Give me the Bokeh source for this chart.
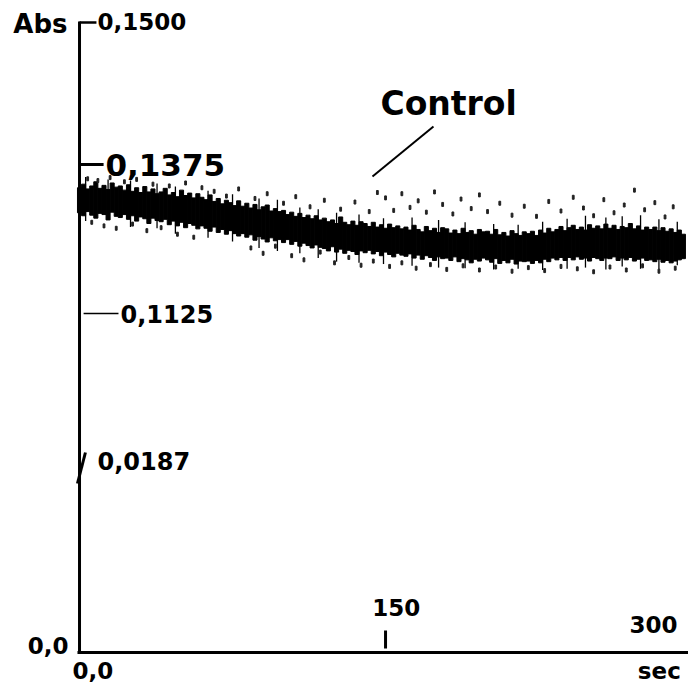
import numpy as np
from bokeh.plotting import figure
from bokeh.models import Label, ColumnDataSource
from bokeh.embed import file_html
from bokeh.resources import INLINE

# ---------------- data (absorbance in mAbs, time in s) ----------------
time_s = list(range(0, 297, 2))

abs_hi_mabs = [
    133.6, 134.2, 133.4, 133.9, 134.6, 133.5, 134.0, 133.3, 134.4, 133.7,
    133.9, 133.2, 134.1, 133.0, 133.6, 132.8, 133.8, 132.9, 133.4, 132.6,
    132.9, 133.5, 132.4, 132.8, 132.1, 133.2, 132.3, 132.7, 131.9, 132.6,
    132.0, 131.6, 132.4, 131.3, 131.8, 130.9, 131.5, 131.1, 130.6, 131.4,
    130.5, 131.0, 130.2, 130.8, 129.9, 130.4, 130.7, 129.7, 130.1, 129.6,
    129.8, 129.1, 129.5, 128.8, 129.3, 128.6, 129.0, 128.4, 128.9, 128.2,
    128.5, 127.9, 128.2, 127.6, 128.7, 127.8, 127.4, 128.0, 127.3, 127.9,
    127.6, 127.1, 127.8, 127.0, 127.4, 126.8, 127.5, 126.9, 127.2, 126.7,
    127.0, 126.5, 127.3, 126.6, 126.2, 127.1, 126.4, 126.8, 126.1, 126.9,
    126.7, 126.0, 126.5, 125.9, 126.8, 126.1, 126.4, 125.8, 126.6, 126.2,
    126.3, 125.8, 126.6, 125.7, 126.1, 125.5, 126.4, 125.9, 125.6, 126.2,
    125.9, 126.3, 125.6, 126.5, 126.0, 126.8, 126.2, 126.6, 127.1, 126.4,
    126.9, 127.3, 126.6, 127.0, 126.5, 127.4, 126.8, 127.2, 126.7, 127.5,
    126.8, 127.3, 126.6, 127.1, 126.9, 127.6, 126.7, 127.2, 126.5, 127.0,
    126.6, 127.0, 126.4, 126.9, 126.3, 126.7, 126.1, 126.5, 125.8,
]
abs_lo_mabs = [
    129.4, 128.9, 129.6, 129.0, 128.5, 129.3, 129.1, 128.2, 129.5, 128.8,
    128.6, 129.1, 128.3, 128.9, 128.0, 128.7, 128.4, 127.6, 128.5, 128.1,
    127.9, 128.3, 127.4, 128.0, 127.2, 127.8, 126.9, 127.6, 127.3, 126.7,
    127.2, 126.8, 126.3, 127.0, 126.1, 126.6, 125.8, 126.4, 125.9, 125.5,
    125.9, 125.3, 125.7, 124.8, 125.4, 125.0, 124.5, 125.2, 124.7, 124.9,
    124.4, 124.9, 124.1, 124.6, 123.8, 124.3, 123.9, 123.5, 124.0, 123.6,
    123.4, 123.0, 123.7, 122.8, 123.3, 122.6, 123.1, 122.9, 122.4, 123.0,
    122.7, 123.1, 122.5, 122.9, 122.2, 122.8, 122.4, 122.0, 122.6, 122.3,
    122.1, 122.5, 121.8, 122.3, 121.6, 122.2, 121.9, 121.4, 122.0, 121.7,
    121.8, 121.4, 122.0, 121.2, 121.7, 121.5, 121.0, 121.6, 121.3, 121.8,
    121.5, 121.1, 121.7, 120.9, 121.4, 121.0, 121.6, 120.8, 121.3, 121.2,
    121.3, 120.9, 121.4, 121.0, 121.6, 121.2, 121.8, 121.5, 121.9, 121.4,
    121.9, 121.5, 122.0, 121.6, 121.8, 121.3, 121.9, 121.7, 121.4, 121.8,
    121.7, 122.0, 121.4, 121.8, 121.5, 121.9, 121.3, 121.6, 121.8, 121.4,
    121.5, 121.2, 121.6, 121.1, 121.4, 121.0, 121.3, 121.5, 121.7,
]

spike_t = [3, 14, 25, 38, 47, 63, 75, 88, 97, 108, 117, 126, 137, 149, 163, 176,
           189, 203, 215, 227, 239, 248, 258, 266, 275, 284, 293]
spike_top_mabs = [135.4, 135.0, 134.8, 134.3, 133.8, 133.1, 132.5, 131.8, 131.6, 130.3,
                  130.0, 129.4, 129.1, 128.5, 128.6, 128.2, 127.8, 127.5, 127.4, 127.9,
                  128.4, 128.9, 128.6, 128.8, 129.0, 128.3, 127.9]
spike_bot_mabs = [128.0, 128.4, 127.0, 126.8, 125.9, 125.2, 124.6, 123.5, 123.0, 122.6,
                  121.8, 121.2, 121.0, 120.8, 120.5, 120.2, 120.1, 119.9, 120.0, 119.8,
                  120.0, 120.2, 119.9, 120.4, 120.0, 119.9, 120.6]

dot_t = [4, 9, 15, 22, 28, 36, 44, 52, 60,
         66, 72, 78, 86, 92, 100, 106, 113, 120, 128, 135, 142, 146,
         150, 154, 158, 162, 166, 170, 174, 178, 183, 187, 192, 196, 200, 206,
         212, 218, 224, 230, 236, 242, 247, 252, 257, 262, 267, 272, 277, 282, 287, 291,
         6, 12, 18, 26, 33, 40, 48, 56,
         84, 90, 96, 104, 110, 118, 125, 132, 138, 144,
         152, 158, 165, 172, 180, 188, 196, 204, 212, 220, 228, 236, 244, 252,
         260, 268, 276, 284, 292]
dot_mabs = [135.1, 134.8, 135.3, 134.6, 135.0, 134.2, 133.9, 134.4, 133.6,
            133.0, 132.2, 133.4, 131.8, 132.6, 131.0, 132.1, 130.4, 131.5, 130.0, 131.2, 129.6, 132.8,
            131.9, 129.8, 132.6, 130.3, 131.4, 129.5, 132.9, 130.8, 129.2, 131.7, 130.1, 132.4, 129.6, 131.0,
            129.0, 130.5, 128.8, 131.3, 129.7, 132.0, 130.2, 128.9, 131.6, 129.4, 130.7, 133.2, 129.9, 131.1, 128.7, 130.4,
            127.8, 127.2, 126.8, 127.5, 126.4, 126.9, 125.8, 125.3,
            123.5, 122.6, 123.8, 122.2, 121.5, 122.8, 121.0, 121.9, 120.6, 121.3,
            120.4, 121.0, 120.1, 120.7, 119.9, 120.5, 119.8, 120.3, 119.6, 120.2, 119.7, 120.4, 120.0, 119.5,
            120.3, 119.8, 120.5, 119.6, 120.1]

# broken (piecewise) absorbance axis: tick values and their labels
y_tick_abs = [0.0, 0.0187, 0.1125, 0.1375, 0.1500]
y_tick_labels = ["0,0", "0,0187", "0,1125", "0,1375", "0,1500"]
x_tick_vals = [0, 150, 300]
x_tick_labels = ["0,0", "150", "300"]
x_unit, y_unit = "sec", "Abs"
series_label = "Control"

# display positions of the broken axis segments
_axis_pos = [0, 192, 339, 488, 631]


def to_axis(abs_vals):
    return np.interp(np.asarray(abs_vals, dtype=float), y_tick_abs, _axis_pos)


def mabs(v):
    return np.asarray(v, dtype=float) / 1000.0


# ---------------- figure ----------------
FONT = "DejaVu Sans"
p = figure(width=688, height=687, x_range=(-38.73, 298.5), y_range=(-35, 652),
           output_backend="svg", toolbar_location=None,
           x_axis_location=None, y_axis_location=None,
           min_border=0, min_border_left=0, min_border_right=0,
           min_border_top=0, min_border_bottom=0)
p.grid.visible = False
p.outline_line_color = None
p.background_fill_color = "white"

# axis lines (drawn in data space because the y axis is broken)
p.segment(x0=[0], x1=[0], y0=[-1.5], y1=[to_axis([0.15])[0]], line_color="black", line_width=3)
p.segment(x0=[-1.0], x1=[298.5], y0=[0], y1=[0], line_color="black", line_width=3)

# trace
src = ColumnDataSource(dict(t=time_s, hi=to_axis(mabs(abs_hi_mabs)), lo=to_axis(mabs(abs_lo_mabs))))
p.vbar(x="t", top="hi", bottom="lo", width=2.0, source=src, color="black")
p.segment(x0=spike_t, x1=spike_t, y0=to_axis(mabs(spike_top_mabs)), y1=to_axis(mabs(spike_bot_mabs)),
          line_color="black", line_width=1.3)
p.rect(x=dot_t, y=to_axis(mabs(dot_mabs)), width=1.8, height=4, width_units="screen",
       height_units="screen", color="#222222")

# tick marks of the broken y axis
u = to_axis(y_tick_abs)
p.segment(x0=[0], x1=[8.3], y0=[u[4] - 1], y1=[u[4] - 1], line_color="black", line_width=2.5)
p.segment(x0=[0], x1=[11.8], y0=[u[3]], y1=[u[3]], line_color="black", line_width=3)
p.segment(x0=[2], x1=[19.1], y0=[u[2]], y1=[u[2]], line_color="black", line_width=1.3)
p.segment(x0=[-1.0], x1=[2.9], y0=[u[1] - 23], y1=[u[1] + 8], line_color="black", line_width=3)
# x tick at 150
p.segment(x0=[x_tick_vals[1]], x1=[x_tick_vals[1]], y0=[4], y1=[22], line_color="black", line_width=3)


def lab(x, y, text, size, align="left", baseline="middle"):
    p.add_layout(Label(x=x, y=y, text=text, text_font=FONT, text_font_style="bold",
                       text_font_size=size, text_align=align, text_baseline=baseline,
                       text_color="black"))


lab(-5.9, 629, y_unit, "26px", align="right")
lab(8.8, u[4], y_tick_labels[4], "23px")
lab(12.7, u[3], y_tick_labels[3], "31px")
lab(20.1, u[2], y_tick_labels[2], "24px")
lab(8.8, u[1], y_tick_labels[1], "24px")
lab(-5.4, 7, y_tick_labels[0], "23px", align="right")
lab(-3.4, -18, x_tick_labels[0], "23px")
lab(155.3, 45, x_tick_labels[1], "23px", align="center")
lab(281.3, 28, x_tick_labels[2], "23px", align="center")
lab(284.2, -18, x_unit, "23px", align="center")
lab(147.5, 549, series_label, "33px")

# pointer from label to trace
p.segment(x0=[173.5], x1=[143.6], y0=[526], y1=[476], line_color="black", line_width=2)

open("out.html", "w").write(file_html(p, INLINE))
